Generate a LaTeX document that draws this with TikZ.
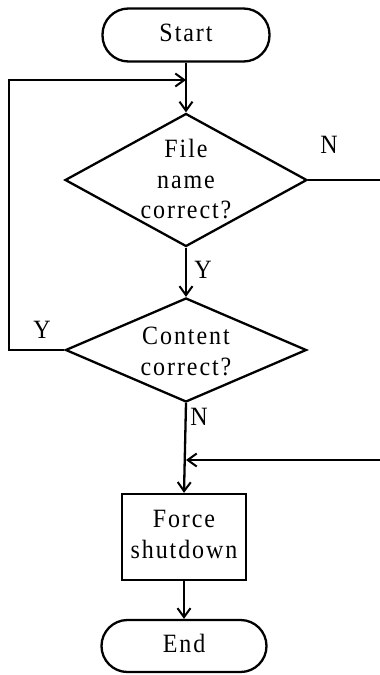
\documentclass[tikz,border=0pt]{standalone}
\usepackage{fontspec}
\setmainfont[LetterSpace=8]{Liberation Serif}
\usetikzlibrary{shapes.geometric,arrows.meta}
\newcommand{\tx}[1]{\scalebox{1}[1.1]{\fontsize{24}{27.3}\selectfont\begin{tabular}{@{}c@{}}#1\end{tabular}}}
\tikzset{
  conn/.style={line width=2.3pt},
  arr/.style={conn,-{Straight Barb[length=9pt,width=13pt,line width=2pt]}},
  term/.style={draw,line width=2.3pt,rectangle,rounded corners=26pt,minimum width=167pt,minimum height=53pt,inner sep=0pt},
  dec/.style={draw,line width=2.3pt,diamond,inner sep=0pt},
  proc/.style={draw,line width=2.3pt,rectangle,minimum width=124pt,minimum height=86pt,inner sep=0pt},
  lbl/.style={inner sep=0pt}
}
\begin{document}
\begin{tikzpicture}[x=1pt,y=-1pt]
\useasboundingbox (0,0) rectangle (380,675);
\clip (0,0) rectangle (380,675);
\node[term] (start) at (186,35) {\tx{Start}};
\node[dec,minimum width=242pt,minimum height=133pt] (d1) at (186,180) {};
\node[lbl] (t1) at (186,182) {\tx{File\\name\\correct?}};
\node[dec,minimum width=241pt,minimum height=104pt] (d2) at (186,350) {};
\node[lbl] (t2) at (186,354) {\tx{Content\\correct?}};
\node[proc] (box) at (184,537) {\tx{Force\\shutdown}};
\node[term,minimum width=165pt,minimum height=52pt] (end) at (184,646) {\tx{End}};
\node[lbl] (n1) at (329,147) {\tx{N}};
\node[lbl] (y1) at (203,272) {\tx{Y}};
\node[lbl] (y2) at (42,332) {\tx{Y}};
\node[lbl] (n2) at (199,419) {\tx{N}};
\coordinate (j1) at (186,80);
\coordinate (j2) at (186,460);
\coordinate (l1) at (9,350);
\coordinate (l2) at (9,80);
\coordinate (r1) at (386,180);
\coordinate (r2) at (386,460);
\draw[arr] (start.south) -- (d1.north);
\draw[arr] (d1.south) -- (d2.north);
\draw[arr] (d2.west) -- (l1) -- (l2) -- (j1);
\draw[arr] (d1.east) -- (r1) -- (r2) -- (j2);
\draw[arr] (d2.south) -- (box.north);
\draw[arr] (box.south) -- (end.north);
\end{tikzpicture}
\end{document}
